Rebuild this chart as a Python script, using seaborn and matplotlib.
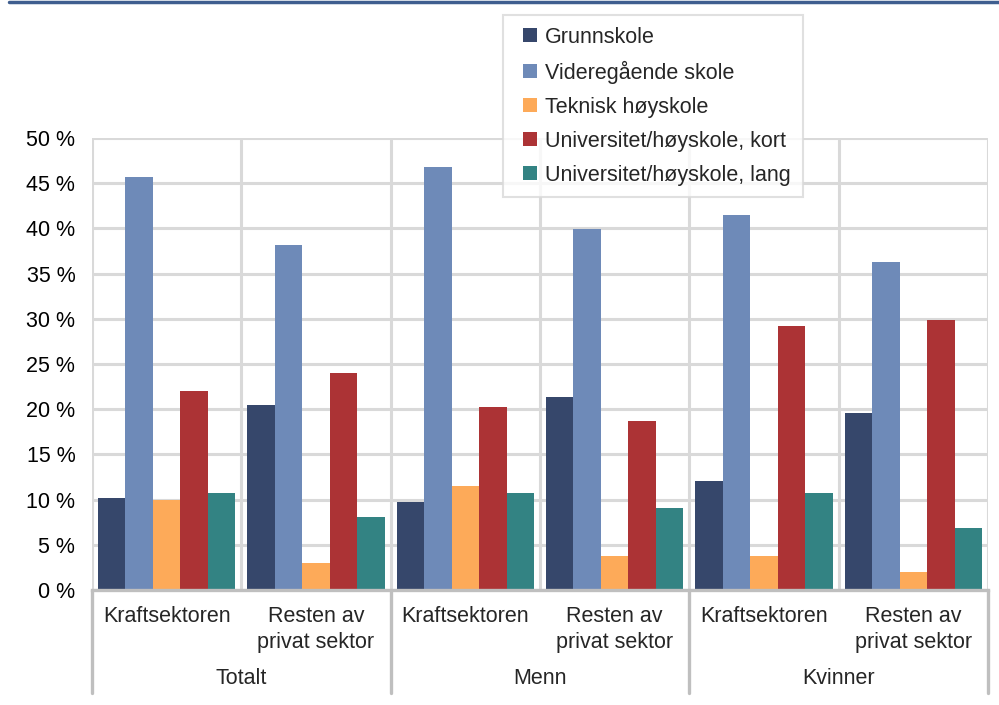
import numpy as np
import pandas as pd
import seaborn as sns
import matplotlib.pyplot as plt
from matplotlib.lines import Line2D
from matplotlib.ticker import FuncFormatter, MultipleLocator

# data (percent)
groups = ['Totalt', 'Menn', 'Kvinner']
sectors = ['Kraftsektoren', 'Resten av\nprivat sektor']
education = ['Grunnskole', 'Videregående skole', 'Teknisk høyskole',
             'Universitet/høyskole, kort', 'Universitet/høyskole, lang']
grunnskole = [10.2, 20.5, 9.7, 21.3, 12.1, 19.6]
videregaende = [45.7, 38.2, 46.8, 39.9, 41.5, 36.3]
teknisk = [10.0, 3.0, 11.5, 3.8, 3.8, 2.0]
uni_kort = [22.0, 24.0, 20.2, 18.7, 29.2, 29.9]
uni_lang = [10.7, 8.1, 10.7, 9.1, 10.7, 6.9]
colors = ['#36476B', '#6E8AB8', '#FDAA59', '#AC3335', '#338383']

cats = [f'{g}|{s}' for g in groups for s in sectors]
rows = []
for edu, vals in zip(education, [grunnskole, videregaende, teknisk, uni_kort, uni_lang]):
    for c, v in zip(cats, vals):
        rows.append({'cat': c, 'edu': edu, 'value': v})
df = pd.DataFrame(rows)

sns.set_theme(style='white')
plt.rcParams['font.family'] = ['Liberation Sans', 'DejaVu Sans']
FS = 15.5

fig = plt.figure(figsize=(9.99, 7.05), dpi=100)
W, H = 999, 705
ax = fig.add_axes([92 / W, 1 - 590 / H, (988 - 92) / W, (590 - 138) / H])

sns.barplot(data=df, x='cat', y='value', hue='edu', order=cats, hue_order=education,
            palette=colors, width=0.92, saturation=1, linewidth=0, ax=ax, zorder=3,
            legend=False)

ax.set_xlim(-0.5, 5.5)
ax.set_ylim(0, 50)
ax.yaxis.set_major_locator(MultipleLocator(5))
ax.yaxis.set_major_formatter(FuncFormatter(lambda v, p: f'{v:.0f} %'))
ax.set_xticks(np.arange(-0.5, 6, 1), minor=True)
ax.set_xticks([])
ax.grid(True, which='major', axis='y', color='#D9D9D9', linewidth=2.2, zorder=0)
ax.grid(True, which='minor', axis='x', color='#D9D9D9', linewidth=2.2, zorder=0)
ax.set_axisbelow(True)
for s in ['top', 'right', 'left']:
    ax.spines[s].set_visible(False)
ax.spines['bottom'].set_color('#BFBFBF')
ax.spines['bottom'].set_linewidth(2.4)
ax.spines['bottom'].set_zorder(5)
ax.tick_params(axis='y', length=0, pad=12, labelsize=FS, labelcolor='black')
ax.tick_params(axis='x', which='both', length=0)
ax.set_xlabel('')
ax.set_ylabel('')

# hierarchical category axis
tr = ax.get_xaxis_transform()
ax_h = 590 - 138
for xb in [-0.5, 1.5, 3.5, 5.5]:
    ax.plot([xb, xb], [0, -(693 - 590) / ax_h], transform=tr, color='#BFBFBF',
            linewidth=2.4, clip_on=False, solid_capstyle='round')
for i, c in enumerate(cats):
    g, s = c.split('|')
    ax.text(i, -(606 - 590) / ax_h, s, transform=tr, ha='center', va='top',
            fontsize=FS, linespacing=1.33)
for j, g in enumerate(groups):
    ax.text(2 * j + 0.5, -(678 - 590) / ax_h, g, transform=tr, ha='center',
            va='center', fontsize=FS)

# legend with small square markers
handles = [Line2D([], [], linestyle='none', marker='s', markersize=9.5,
                  markerfacecolor=c, markeredgewidth=0) for c in colors]
leg = ax.legend(handles, education, loc='upper left', bbox_to_anchor=(503 / W, 1 - 15 / H),
                bbox_transform=fig.transFigure, fontsize=FS, frameon=True, fancybox=False,
                handlelength=1.4, handletextpad=0.0,
                labelspacing=0.6, borderpad=0.55, borderaxespad=0)
leg.get_frame().set_edgecolor('#D9D9D9')
leg.get_frame().set_linewidth(1.5)
leg.set_zorder(10)

# top rule
fig.add_artist(Line2D([9 / W, 1], [1 - 1.5 / H, 1 - 1.5 / H], transform=fig.transFigure,
                      color='#3F5E8F', linewidth=2.5))

fig.savefig('out.png', dpi=100)
